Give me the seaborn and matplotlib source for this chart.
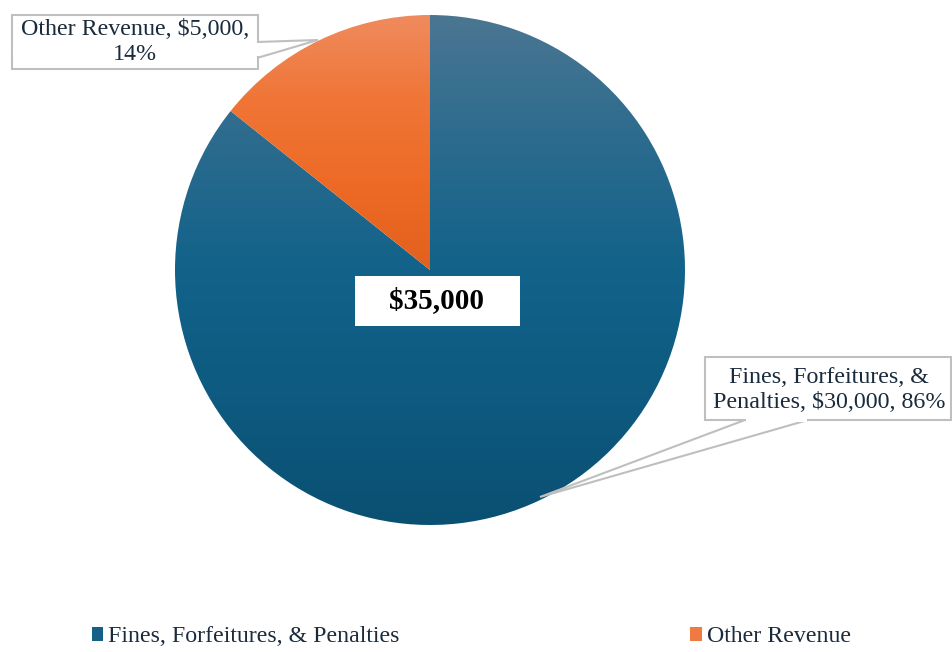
import matplotlib
matplotlib.use("Agg")
import matplotlib.pyplot as plt
import seaborn as sns
import numpy as np
from matplotlib.colors import LinearSegmentedColormap
from matplotlib.patches import Patch, Polygon, Rectangle

labels = ["Fines, Forfeitures, & Penalties", "Other Revenue"]
values = [30000, 5000]
blue_stops = ["#4b7692", "#2b6b8e", "#12628a", "#0e5a80", "#0a5072"]
orange_stops = ["#ef8b5e", "#f07536", "#ed6a26", "#e2611d"]

total = sum(values)
shares = [v / total for v in values]
text_color = "#1a2b3c"

sns.set_theme(style="white")
plt.rcParams["font.family"] = ["Liberation Serif", "DejaVu Serif"]

fig = plt.figure(figsize=(9.53, 6.52), dpi=100)
ax = fig.add_axes([0, 0, 1, 1])

cx, cy, r = 430, 652 - 270, 255
start = 90 + 360 * shares[1]
wedges, _ = ax.pie(values, startangle=start, counterclock=True, radius=r,
                   center=(cx, cy), frame=True, colors=["#12628a", "#f07133"],
                   wedgeprops=dict(linewidth=0))
ax.set_xlim(0, 953)
ax.set_ylim(0, 652)
ax.set_aspect("auto")
ax.axis("off")

# gradient fills clipped to each wedge (light at top, dark at bottom)
for w, stops in zip(wedges, [blue_stops, orange_stops]):
    bb = w.get_path().get_extents()
    cmap = LinearSegmentedColormap.from_list("g", stops)
    grad = np.linspace(0, 1, 256).reshape(-1, 1)
    y0 = max(bb.y0, cy - r)
    y1 = min(bb.y1, cy + r)
    im = ax.imshow(grad, cmap=cmap, aspect="auto", origin="upper",
                   extent=(cx - r, cx + r, y0, y1), zorder=2)
    im.set_clip_path(w)
    w.set_alpha(0)

# center total label
ax.add_patch(Rectangle((355, 652 - 326), 165, 50, facecolor="white",
                       edgecolor="none", zorder=5))
ax.text(437, 652 - 301, f"${total:,}", ha="center", va="center",
        fontsize=21, fontweight="bold", color="black", zorder=6)

# callout for Other Revenue
ax.add_patch(Polygon([(257, 652 - 42), (318, 652 - 40), (257, 652 - 58)],
                     closed=True, facecolor="white", edgecolor="#bfbfbf",
                     linewidth=1.5, zorder=4))
ax.add_patch(Rectangle((12, 652 - 69), 246, 54, facecolor="white",
                       edgecolor="#bfbfbf", linewidth=1.5, zorder=4))
ax.add_patch(Rectangle((13.5, 652 - 56), 246, 13, facecolor="white",
                       edgecolor="none", zorder=4.5))
ax.text(135, 652 - 42, f"{labels[1]}, ${values[1]:,},\n{shares[1]:.0%}",
        ha="center", va="center", fontsize=17.3, color=text_color,
        linespacing=1.2, zorder=6)

# callout for Fines
ax.add_patch(Polygon([(745, 652 - 420), (540, 652 - 497), (808, 652 - 420)],
                     closed=True, facecolor="white", edgecolor="#bfbfbf",
                     linewidth=1.5, zorder=4))
ax.add_patch(Rectangle((705, 652 - 420), 246, 63, facecolor="white",
                       edgecolor="#bfbfbf", linewidth=1.5, zorder=4))
ax.add_patch(Rectangle((746, 652 - 422), 61, 5, facecolor="white",
                       edgecolor="none", zorder=4.5))
ax.text(829, 652 - 390,
        f"Fines, Forfeitures, &\nPenalties, ${values[0]:,}, {shares[0]:.0%}",
        ha="center", va="center", fontsize=17.3, color=text_color,
        linespacing=1.2, zorder=6)

# legend
handles = [Patch(facecolor="#165f85", edgecolor="none"),
           Patch(facecolor="#ef7a42", edgecolor="none")]
fig.legend(handles, labels, loc="center left", bbox_to_anchor=(82 / 953, 1 - 637 / 652),
           ncol=2, frameon=False, fontsize=17.2, labelcolor=text_color,
           handlelength=0.5, handleheight=0.5, handletextpad=0.2,
           columnspacing=12.15, borderaxespad=0)

fig.savefig("out.png", dpi=100)
